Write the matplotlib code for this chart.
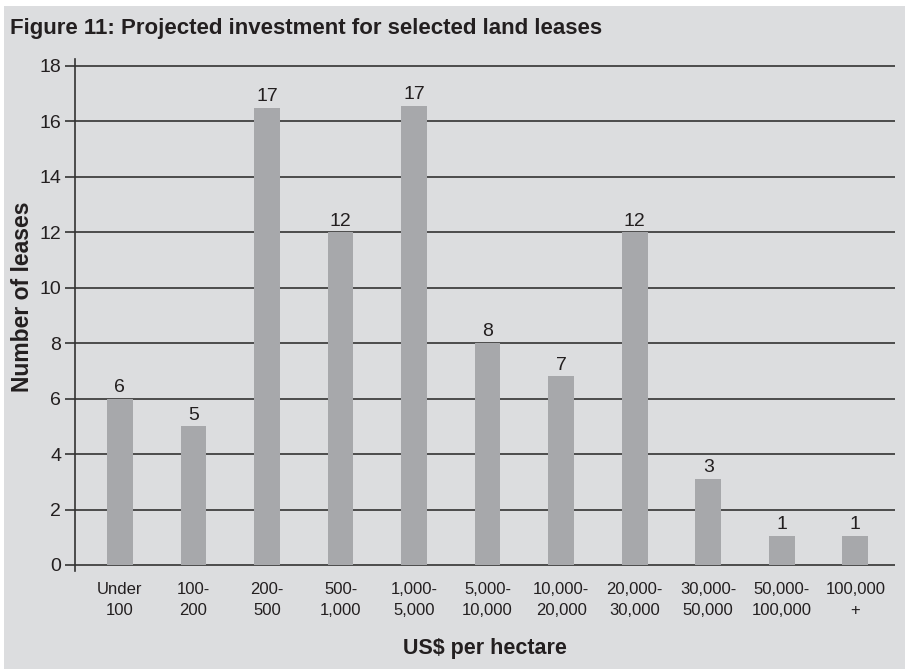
import matplotlib
matplotlib.use("Agg")
import matplotlib.pyplot as plt
import numpy as np

plt.rcParams["font.family"] = ["Liberation Sans", "DejaVu Sans"]

# Data
categories = ["Under\n100", "100-\n200", "200-\n500", "500-\n1,000", "1,000-\n5,000",
              "5,000-\n10,000", "10,000-\n20,000", "20,000-\n30,000", "30,000-\n50,000",
              "50,000-\n100,000", "100,000\n+"]
bar_heights = [6, 5, 16.5, 12, 16.55, 8, 6.8, 12, 3.1, 1.05, 1.05]
bar_labels = ["6", "5", "17", "12", "17", "8", "7", "12", "3", "1", "1"]
y_ticks = [0, 2, 4, 6, 8, 10, 12, 14, 16, 18]

BG = "#dcdddf"
BAR = "#a7a8ab"
INK = "#231f20"


def main():
    fig = plt.figure(figsize=(9.05, 6.69), dpi=100)
    fig.patch.set_facecolor("white")
    # grey panel with a thin white margin, like the scanned figure
    fig.patches.append(plt.Rectangle((0.0045, 0.0), 0.9955, 0.991, transform=fig.transFigure,
                                     facecolor=BG, edgecolor="none", zorder=-10))

    ax = fig.add_axes([0.0829, 0.1472, 0.9061, 0.7646])
    ax.set_facecolor(BG)
    x = np.arange(len(categories))

    for yt in y_ticks:
        ax.axhline(yt, color="#333333", linewidth=1.2, zorder=1)
    ax.bar(x, bar_heights, width=0.35, color=BAR, zorder=2)

    for xi, h, lab in zip(x, bar_heights, bar_labels):
        ax.text(xi, h + 0.1, lab, ha="center", va="bottom", fontsize=14, color=INK)

    ax.set_xlim(-0.61, 10.54)
    ax.set_ylim(-0.2, 18.25)
    ax.set_yticks(y_ticks)
    ax.set_yticklabels([str(v) for v in y_ticks], fontsize=14, color=INK)
    ax.tick_params(axis="y", direction="out", length=7, width=1.2, color="#333333", pad=3)
    ax.set_xticks(x)
    ax.set_xticklabels(categories, fontsize=12, color=INK, linespacing=1.55)
    ax.tick_params(axis="x", length=0, pad=8)

    for side in ["top", "right", "bottom"]:
        ax.spines[side].set_visible(False)
    ax.spines["left"].set_color("#333333")
    ax.spines["left"].set_linewidth(1.2)

    ax.set_ylabel("Number of leases", fontsize=16.5, fontweight="bold", color=INK)
    ax.yaxis.set_label_coords(-0.05, 0.535)
    fig.text(0.536, 0.031, "US$ per hectare", ha="center", va="center",
             fontsize=15.5, fontweight="bold", color=INK)
    fig.text(0.011, 0.958, "Figure 11: Projected investment for selected land leases",
             ha="left", va="center", fontsize=16, fontweight="bold", color=INK)

    fig.savefig("out.png", dpi=100, facecolor=fig.get_facecolor())


if __name__ == "__main__":
    main()
